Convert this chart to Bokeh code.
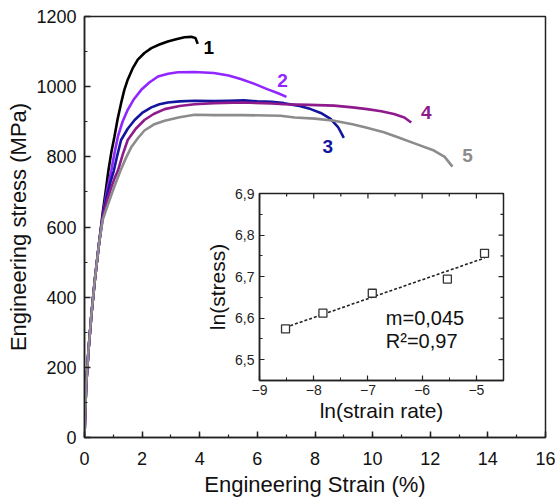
import numpy as np
from bokeh.plotting import figure
from bokeh.models import SingleIntervalTicker, CustomJSTickFormatter, Range1d
from bokeh.embed import file_html
from bokeh.resources import INLINE
from bokeh.core.properties import value

FONT = "Liberation Sans"

# ---- main data: engineering strain (%) vs engineering stress (MPa) ----
x1 = [0, 0.02, 0.06, 0.14, 0.24, 0.36, 0.5, 0.63, 0.74, 0.83, 0.93, 1.04, 1.15, 1.27, 1.38, 1.5,
      1.67, 1.85, 2.08, 2.32, 2.6, 2.89, 3.18, 3.47, 3.7, 3.85, 3.93]
y1 = [0, 60, 150, 250, 350, 450, 550, 640, 705, 761, 812, 858, 908, 953, 990, 1020,
      1052, 1077, 1096, 1110, 1120, 1129, 1135, 1141, 1142, 1139, 1122]

x2 = [0, 0.02, 0.06, 0.14, 0.24, 0.36, 0.5, 0.63, 0.76, 0.93, 1.04, 1.16, 1.32, 1.5, 1.72, 1.97,
      2.25, 2.55, 2.9, 3.24, 3.82, 4.49, 5.0, 5.42, 5.9, 6.34, 6.7, 7.01]
y2 = [0, 60, 150, 250, 350, 450, 550, 630, 695, 761, 810, 858, 900, 934, 965, 991,
      1012, 1029, 1037, 1041, 1042, 1039, 1032, 1022, 1008, 993, 982, 971]

x3 = [0, 0.02, 0.06, 0.14, 0.24, 0.36, 0.5, 0.63, 0.78, 0.9, 1.02, 1.14, 1.27, 1.5, 1.74, 2.0,
      2.32, 2.6, 2.89, 3.3, 3.82, 4.5, 5.0, 5.53, 6.0, 6.5, 6.92, 7.4, 7.85, 8.2, 8.54, 8.8, 9.0]
y3 = [0, 60, 150, 250, 350, 450, 550, 628, 690, 728, 761, 805, 848, 880, 905, 925,
      941, 950, 955, 958, 960, 959, 960, 961, 958, 957, 953, 946, 936, 925, 908, 885, 854]

x4 = [0, 0.02, 0.06, 0.14, 0.24, 0.36, 0.5, 0.63, 0.8, 0.95, 1.05, 1.16, 1.32, 1.5, 1.78, 2.08,
      2.4, 2.78, 3.3, 3.82, 4.5, 5.5, 6.5, 6.92, 7.8, 8.66, 9.3, 9.81, 10.3, 10.74, 11.1, 11.34]
y4 = [0, 60, 150, 250, 350, 450, 550, 625, 680, 718, 740, 761, 805, 848, 880, 905,
      922, 936, 945, 950, 953, 955, 952, 950, 948, 946, 941, 936, 930, 922, 912, 898]

x5 = [0, 0.02, 0.06, 0.14, 0.24, 0.36, 0.5, 0.63, 0.82, 1.02, 1.25, 1.44, 1.62, 1.85, 2.08, 2.4,
      2.78, 3.3, 3.82, 4.49, 5.5, 6.8, 7.3, 8.0, 8.66, 9.3, 9.8, 10.39, 10.9, 11.5, 12.13, 12.5, 12.77]
y5 = [0, 60, 150, 250, 350, 450, 550, 620, 665, 712, 761, 797, 827, 853, 875, 892,
      903, 913, 920, 919, 919, 917, 912, 909, 903, 893, 883, 870, 855, 837, 818, 800, 772]

curve_names = ["1", "2", "3", "4", "5"]
curve_colors = ["#000000", "#9126ff", "#14159e", "#8e1a8c", "#8c8c8c"]

# ---- inset data: ln(strain rate) vs ln(stress) ----
ln_rate = [-8.52, -7.83, -6.92, -5.535, -4.85]
ln_stress = [6.574, 6.612, 6.66, 6.694, 6.756]
fit_texts = ["m=0,045", "R\u00b2=0,97"]

# ================= main figure =================
p = figure(width=555, height=504, output_backend="svg", toolbar_location=None,
           x_range=Range1d(0, 16), y_range=Range1d(0, 1200),
           min_border_left=84, min_border_right=10, min_border_top=16, min_border_bottom=67,
           background_fill_color="white", border_fill_color="white")
p.xgrid.visible = False
p.ygrid.visible = False
p.outline_line_color = "#222222"
p.outline_line_width = 1.5

p.xaxis.ticker = SingleIntervalTicker(interval=2, num_minor_ticks=2)
p.yaxis.ticker = SingleIntervalTicker(interval=200, num_minor_ticks=2)
p.xaxis.axis_label = "Engineering Strain (%)"
p.yaxis.axis_label = "Engineering stress (MPa)"
for ax in (p.xaxis[0], p.yaxis[0]):
    ax.major_tick_in = 6
    ax.major_tick_out = 0
    ax.minor_tick_in = 3
    ax.minor_tick_out = 0
    ax.axis_line_color = "#222222"
    ax.axis_line_width = 1.5
    ax.major_tick_line_color = "#222222"
    ax.major_tick_line_width = 1.5
    ax.minor_tick_line_color = "#222222"
    ax.minor_tick_line_width = 1.2
    ax.major_label_text_font = FONT
    ax.major_label_text_font_size = "18px"
    ax.major_label_text_color = "#111111"
    ax.axis_label_text_font = FONT
    ax.axis_label_text_font_size = "22px"
    ax.axis_label_text_font_style = "normal"
    ax.axis_label_text_color = "#111111"
p.xaxis.major_label_standoff = 14
p.xaxis.axis_label_standoff = 4
p.yaxis.major_label_standoff = 8
p.yaxis.axis_label_standoff = 2

curves = [(x1, y1), (x2, y2), (x3, y3), (x4, y4), (x5, y5)]
label_offsets = [(11, 4), (-4, -16), (-16, 9), (15, -10), (15, -11)]
for (xs, ys), name, col, (dx, dy) in zip(curves, curve_names, curve_colors, label_offsets):
    p.line(xs, ys, line_color=col, line_width=2.6)
    p.text(x=[xs[-1]], y=[ys[-1]], text=[name], x_offset=dx, y_offset=dy,
           text_color=col, text_font=value(FONT), text_font_size="19px",
           text_font_style="bold", text_align="center", text_baseline="middle")

# ================= inset figure =================
IX0, IX1, IY0, IY1 = -9, -4.5, 6.45, 6.9
IFW, IFH = 245, 187
inset = figure(width=55 + IFW + 4, height=6 + IFH + 48, output_backend="svg", toolbar_location=None,
               x_range=Range1d(IX0, IX1), y_range=Range1d(IY0, IY1),
               min_border_left=55, min_border_right=4, min_border_top=6, min_border_bottom=48,
               background_fill_color="white", border_fill_alpha=0)
inset.styles = {"position": "absolute", "left": "203px", "top": "187px"}
inset.xgrid.visible = False
inset.ygrid.visible = False
inset.outline_line_color = "#222222"
inset.outline_line_width = 1.5

xt = SingleIntervalTicker(interval=1, num_minor_ticks=2)
yt = SingleIntervalTicker(interval=0.1, num_minor_ticks=2)
xax = inset.xaxis[0]
yax = inset.yaxis[0]
xax.ticker = xt
yax.ticker = yt
yax.formatter = CustomJSTickFormatter(code="return tick.toFixed(1).replace('.', ',');")
xax.axis_label = "ln(strain rate)"
yax.axis_label = "ln(stress)"
for ax in (xax, yax):
    ax.major_tick_in = 5
    ax.major_tick_out = 0
    ax.minor_tick_in = 3
    ax.minor_tick_out = 0
    ax.axis_line_color = "#222222"
    ax.axis_line_width = 1.5
    ax.major_tick_line_color = "#222222"
    ax.major_tick_line_width = 1.2
    ax.minor_tick_line_color = "#222222"
    ax.major_label_text_font = FONT
    ax.major_label_text_font_size = "14px"
    ax.major_label_text_color = "#222222"
    ax.axis_label_text_font = FONT
    ax.axis_label_text_font_size = "21px"
    ax.axis_label_text_font_style = "normal"
    ax.axis_label_text_color = "#111111"
xax.major_label_standoff = 4
xax.axis_label_standoff = 1
yax.major_label_standoff = 5
yax.axis_label_standoff = 3

# mirrored inside ticks on the top and right frame edges
ppx = (IX1 - IX0) / IFW   # data units per pixel (x)
ppy = (IY1 - IY0) / IFH   # data units per pixel (y)
top_major = np.arange(-9, -4.4, 1.0)
top_minor = np.arange(-8.5, -4.4, 1.0)
right_major = np.round(np.arange(6.5, 6.91, 0.1), 2)
right_minor = np.round(np.arange(6.45, 6.91, 0.1), 2)
for xs_, L in ((top_major, 5), (top_minor, 3)):
    inset.segment(x0=xs_, y0=[IY1] * len(xs_), x1=xs_, y1=[IY1 - L * ppy] * len(xs_),
                  line_color="#222222", line_width=1.2)
for ys_, L in ((right_major, 5), (right_minor, 3)):
    inset.segment(x0=[IX1] * len(ys_), y0=ys_, x1=[IX1 - L * ppx] * len(ys_), y1=ys_,
                  line_color="#222222", line_width=1.2)

slope, icpt = np.polyfit(ln_rate, ln_stress, 1)
fx = [ln_rate[0], ln_rate[-1]]
fy = [slope * v + icpt for v in fx]
inset.line(fx, fy, line_color="#222222", line_width=1.6, line_dash="3 2")
inset.scatter(ln_rate, ln_stress, marker="square", size=8, fill_color="white",
              line_color="#333333", line_width=1.3)
inset.text(x=[-6.67, -6.67], y=[6.6005, 6.545], text=fit_texts,
           text_font=value(FONT), text_font_size="20px", text_color="#111111",
           text_align="left", text_baseline="alphabetic")

open("out.html", "w").write(file_html([p, inset], INLINE))
